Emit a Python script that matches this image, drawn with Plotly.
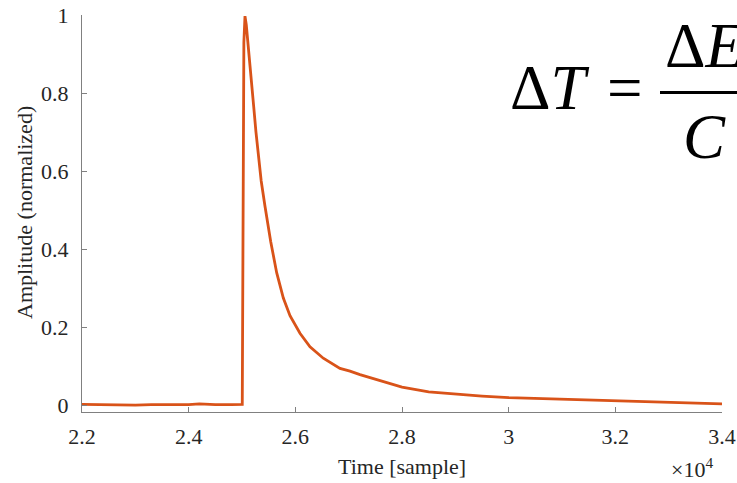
import plotly.graph_objects as go

# ---- data ----
time_samples = [22000, 22300, 22700, 23000, 23300, 23700, 24000, 24200, 24500,
                24800, 25005, 25035, 25056, 25080, 25120, 25174, 25220, 25262,
                25300, 25360, 25431, 25538, 25650, 25775, 25900, 26000, 26087,
                26275, 26524, 26837, 27025, 27212, 27500, 27750, 28000, 28500,
                29000, 29500, 30000, 30500, 31000, 31500, 32000, 32500, 33000,
                33500, 34000]
amplitude = [0.003, 0.002, 0.001, 0.001, 0.002, 0.002, 0.002, 0.004, 0.002,
             0.002, 0.003, 0.93, 0.997, 0.975, 0.92, 0.84, 0.765, 0.70,
             0.645, 0.575, 0.51, 0.42, 0.34, 0.275, 0.23, 0.205, 0.185,
             0.15, 0.121, 0.095, 0.088, 0.079, 0.067, 0.056, 0.047, 0.035,
             0.029, 0.024, 0.020, 0.018, 0.016, 0.013, 0.011, 0.009, 0.008,
             0.0065, 0.004]
x_tickvals = [22000, 24000, 26000, 28000, 30000, 32000, 34000]
x_ticktext = ["2.2", "2.4", "2.6", "2.8", "3", "3.2", "3.4"]
y_tickvals = [0, 0.2, 0.4, 0.6, 0.8, 1]
y_ticktext = ["0", "0.2", "0.4", "0.6", "0.8", "1"]

W, H = 737, 483
L, R, T, B = 82, 15, 15, 71
PW, PH = W - L - R, H - T - B


def px(xp):
    return (xp - L) / PW


def py(yp):
    return 1 - (yp - T) / PH


FONT = "Liberation Serif"
TXT = "#262626"
AX = "#808080"
FS = 22

fig = go.Figure()
fig.add_trace(go.Scatter(x=time_samples, y=amplitude, mode="lines",
                         line=dict(color="#D95319", width=2.8),
                         showlegend=False, hoverinfo="skip"))

fig.update_layout(
    width=W, height=H,
    margin=dict(l=L, r=R, t=T, b=B, pad=0),
    paper_bgcolor="white", plot_bgcolor="white",
    font=dict(family=FONT, color=TXT, size=FS),
    xaxis=dict(range=[22000, 34000], tickvals=x_tickvals, ticktext=x_ticktext,
               showline=True, linecolor=AX, linewidth=1, mirror=False,
               ticks="inside", ticklen=5, tickcolor=AX, showgrid=False,
               zeroline=False, automargin=False,
               tickfont=dict(family=FONT, size=FS, color=TXT),
               ticklabelstandoff=5),
    yaxis=dict(range=[-0.0167, 1.0], tickvals=y_tickvals, ticktext=y_ticktext,
               showline=True, linecolor=AX, linewidth=1, mirror=False,
               ticks="inside", ticklen=5, tickcolor=AX, showgrid=False,
               zeroline=False, automargin=False,
               tickfont=dict(family=FONT, size=FS, color=TXT),
               ticklabelstandoff=8),
)

# axis titles
fig.add_annotation(x=px(402), y=py(467), xref="paper", yref="paper",
                   text="Time [sample]", showarrow=False, xanchor="center",
                   yanchor="middle", font=dict(family=FONT, size=FS, color=TXT))
fig.add_annotation(x=px(24), y=py(213), xref="paper", yref="paper",
                   text="Amplitude (normalized)", showarrow=False, textangle=-90,
                   xanchor="center", yanchor="middle",
                   font=dict(family=FONT, size=FS, color=TXT))

# x10^4 exponent label
fig.add_annotation(x=px(715), y=py(468), xref="paper", yref="paper",
                   text="×10<sup>4</sup>", showarrow=False, xanchor="right",
                   yanchor="middle", font=dict(family=FONT, size=22, color=TXT))

# equation  ΔT = ΔE / C
EQ = 63
fig.add_annotation(x=px(508), y=py(88), xref="paper", yref="paper",
                   text="Δ<i>T</i>", showarrow=False, xanchor="left", yanchor="middle",
                   font=dict(family=FONT, size=EQ, color="black"))
fig.add_annotation(x=px(625), y=py(88), xref="paper", yref="paper",
                   text="=", showarrow=False, xanchor="center", yanchor="middle",
                   font=dict(family=FONT, size=EQ, color="black"))
fig.add_annotation(x=px(663), y=py(46), xref="paper", yref="paper",
                   text="Δ<i>E</i>", showarrow=False, xanchor="left", yanchor="middle",
                   font=dict(family=FONT, size=EQ, color="black"))
fig.add_annotation(x=px(704), y=py(137), xref="paper", yref="paper",
                   text="<i>C</i>", showarrow=False, xanchor="center", yanchor="middle",
                   font=dict(family=FONT, size=EQ, color="black"))
fig.add_shape(type="line", xref="paper", yref="paper",
              x0=px(660), x1=px(760), y0=py(92.5), y1=py(92.5),
              line=dict(color="black", width=3))

fig.write_html("out.html")
